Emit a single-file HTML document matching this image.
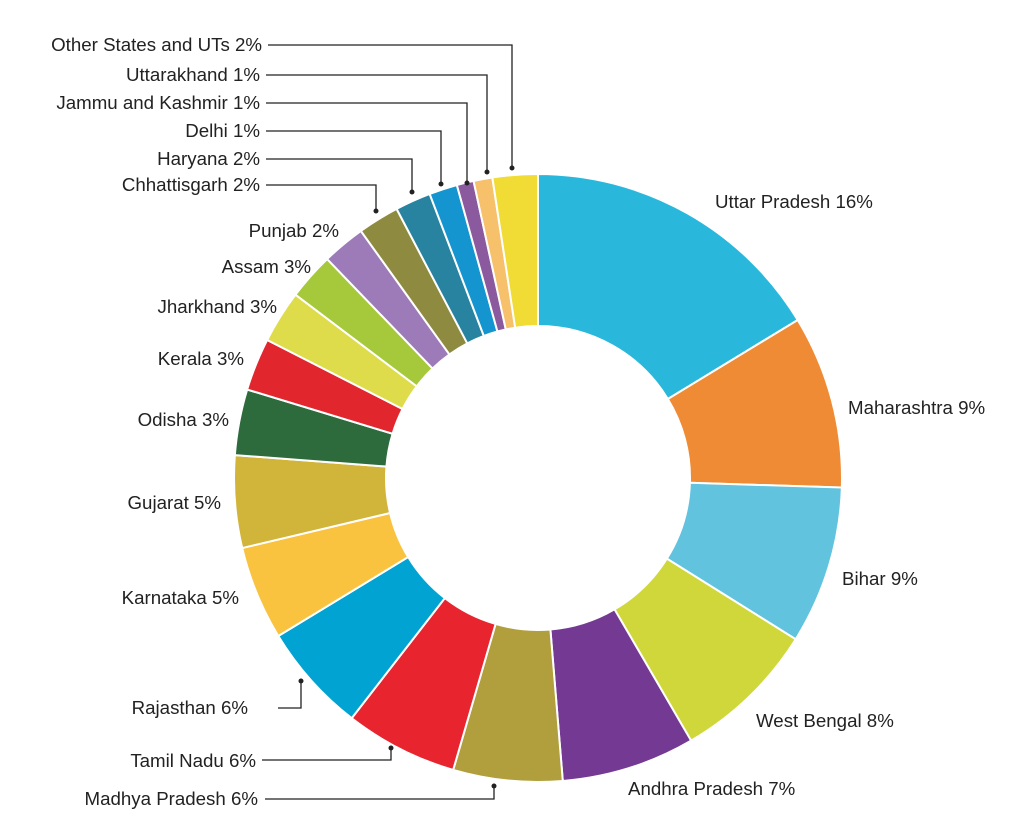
<!DOCTYPE html>
<html><head><meta charset="utf-8"><style>
body{margin:0;background:#fff;width:1024px;height:825px;overflow:hidden}
svg text{font-family:"Liberation Sans",sans-serif;font-size:18.7px;fill:#222}
</style></head><body>
<svg id="chart" width="1024" height="825" viewBox="0 0 1024 825"></svg>
<script>
const categories=["Uttar Pradesh","Maharashtra","Bihar","West Bengal","Andhra Pradesh","Madhya Pradesh","Tamil Nadu","Rajasthan","Karnataka","Gujarat","Odisha","Kerala","Jharkhand","Assam","Punjab","Chhattisgarh","Haryana","Delhi","Jammu and Kashmir","Uttarakhand","Other States and UTs"];
const values=[16.3,9.2,8.4,7.7,7.1,5.8,6.0,5.8,5.0,4.9,3.5,2.8,2.8,2.5,2.3,2.2,1.9,1.5,0.9,1.0,2.4];
const labels=["16%","9%","9%","8%","7%","6%","6%","6%","5%","5%","3%","3%","3%","3%","2%","2%","2%","1%","1%","1%","2%"];
const colors=["#29b8dc","#f08b35","#62c3df","#cfd73a","#733993","#b09f3c","#e8242f","#00a3d1","#f9c33f","#d1b53a","#2e6b3c","#e2262d","#dedc4a","#a6c93c","#9d7bb8","#8e8a3f","#27839f","#1495cf","#8b5a9e","#f7c06b","#f0dc35"];
const labelPos=[[715,208,"start"],[848,414,"start"],[842,585,"start"],[756,727,"start"],[628,795,"start"],[258,805,"end"],[256,767,"end"],[248,714,"end"],[239,604,"end"],[221,509,"end"],[229,426,"end"],[244,365,"end"],[277,313,"end"],[311,273,"end"],[339,237,"end"],[260,191,"end"],[260,165,"end"],[260,137,"end"],[260,109,"end"],[260,81,"end"],[262,51,"end"]];
const leaders={5:[[265,799],[494,799],[494,786]],6:[[262,760],[391,760],[391,748]],7:[[278,708],[301,708],[301,681]],15:[[266,185],[376,185],[376,211]],16:[[266,159],[412,159],[412,192]],17:[[266,131],[441,131],[441,184]],18:[[266,103],[467,103],[467,183]],19:[[266,75],[487,75],[487,172]],20:[[268,45],[512,45],[512,168]]};
const NS="http://www.w3.org/2000/svg",svg=document.getElementById("chart");
const cx=538,cy=478,R=304,r=152;
const total=values.reduce((a,b)=>a+b,0);
function pt(a,rad){return [cx+rad*Math.sin(a),cy-rad*Math.cos(a)];}
let acc=0;
values.forEach((v,i)=>{
 const a0=acc/total*2*Math.PI;acc+=v;const a1=acc/total*2*Math.PI;
 const big=(a1-a0)>Math.PI?1:0;
 const p0=pt(a0,R),p1=pt(a1,R),q1=pt(a1,r),q0=pt(a0,r);
 const p=document.createElementNS(NS,"path");
 p.setAttribute("d",`M${p0} A${R},${R} 0 ${big} 1 ${p1} L${q1} A${r},${r} 0 ${big} 0 ${q0}Z`);
 p.setAttribute("fill",colors[i]);p.setAttribute("stroke","#fff");p.setAttribute("stroke-width","2");
 
 
 svg.appendChild(p);
});
categories.forEach((c,i)=>{
 const [x,y,an]=labelPos[i];
 const t=document.createElementNS(NS,"text");
 t.setAttribute("x",x);t.setAttribute("y",y);t.setAttribute("text-anchor",an);
 t.textContent=c+" "+labels[i];
 
 
 svg.appendChild(t);
 if(leaders[i]){
  const L=leaders[i];
  const pl=document.createElementNS(NS,"polyline");
  pl.setAttribute("points",L.map(p=>p.join(",")).join(" "));
  pl.setAttribute("fill","none");pl.setAttribute("stroke","#222");pl.setAttribute("stroke-width","1.3");
  
  
  svg.appendChild(pl);
  const d=document.createElementNS(NS,"circle");
  const e=L[L.length-1];d.setAttribute("cx",e[0]);d.setAttribute("cy",e[1]);d.setAttribute("r","2.5");d.setAttribute("fill","#222");
  
  
  svg.appendChild(d);
 }
});
</script>
</body></html>
